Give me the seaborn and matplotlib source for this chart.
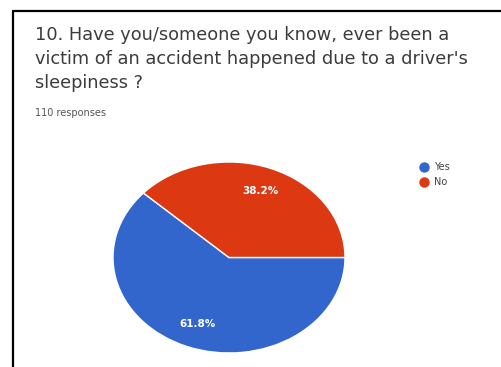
import matplotlib.pyplot as plt
import seaborn as sns
from matplotlib.lines import Line2D

# ข้อมูลจากภาพ
question = "10. Have you/someone you know, ever been a\nvictim of an accident happened due to a driver's\nsleepiness ?"
n_responses = "110 responses"
answers = ["Yes", "No"]
shares = [61.8, 38.2]
answer_colors = ["#3366cc", "#dc3912"]

sns.set_theme(style="white")
plt.rcParams['font.family'] = ['DejaVu Sans']

W, H = 502, 367
fig = plt.figure(figsize=(W / 100, H / 100), dpi=100)
fig.patch.set_facecolor("white")

# กรอบสีดำ (ซ้ายและบน)
fig.add_artist(Line2D([13 / W, 13 / W], [0, 1 - 11 / H], color="black", lw=1.6))
fig.add_artist(Line2D([13 / W, 1], [1 - 11 / H, 1 - 11 / H], color="black", lw=1.6))

# หัวข้อคำถาม
fig.text(35 / W, 1 - 26 / H, question, ha="left", va="top", fontsize=12.8,
         color="#3c3c3c", linespacing=1.42)
fig.text(35 / W, 1 - 108 / H, n_responses, ha="left", va="top", fontsize=7,
         color="#555555")

# วงกลม (ยืดเป็นวงรีตามภาพ)
ax = fig.add_axes([113 / W, (H - 353) / H, 232 / W, 191 / H])
wedges, texts, autotexts = ax.pie(
    shares, colors=answer_colors, startangle=360 * shares[1] / 100,
    counterclock=True, autopct="%.1f%%", pctdistance=0.75,
    wedgeprops=dict(edgecolor="white", linewidth=1),
    textprops=dict(color="white", fontsize=7.5, fontweight="bold"))
ax.set_aspect("auto")
ax.set_xlim(-1, 1)
ax.set_ylim(-1, 1)

# คำอธิบายสัญลักษณ์
handles = [Line2D([0], [0], marker="o", linestyle="", markersize=6.5,
                  markerfacecolor=c, markeredgecolor=c) for c in answer_colors]
fig.legend(handles, answers, loc="upper left", bbox_to_anchor=(419 / W, 1 - 162 / H),
           frameon=False, fontsize=7, handletextpad=0.5, labelspacing=0.55,
           handlelength=1.0, borderaxespad=0, borderpad=0)
for t in fig.legends[0].get_texts():
    t.set_color("#444444")

plt.savefig("out.png", dpi=100)
